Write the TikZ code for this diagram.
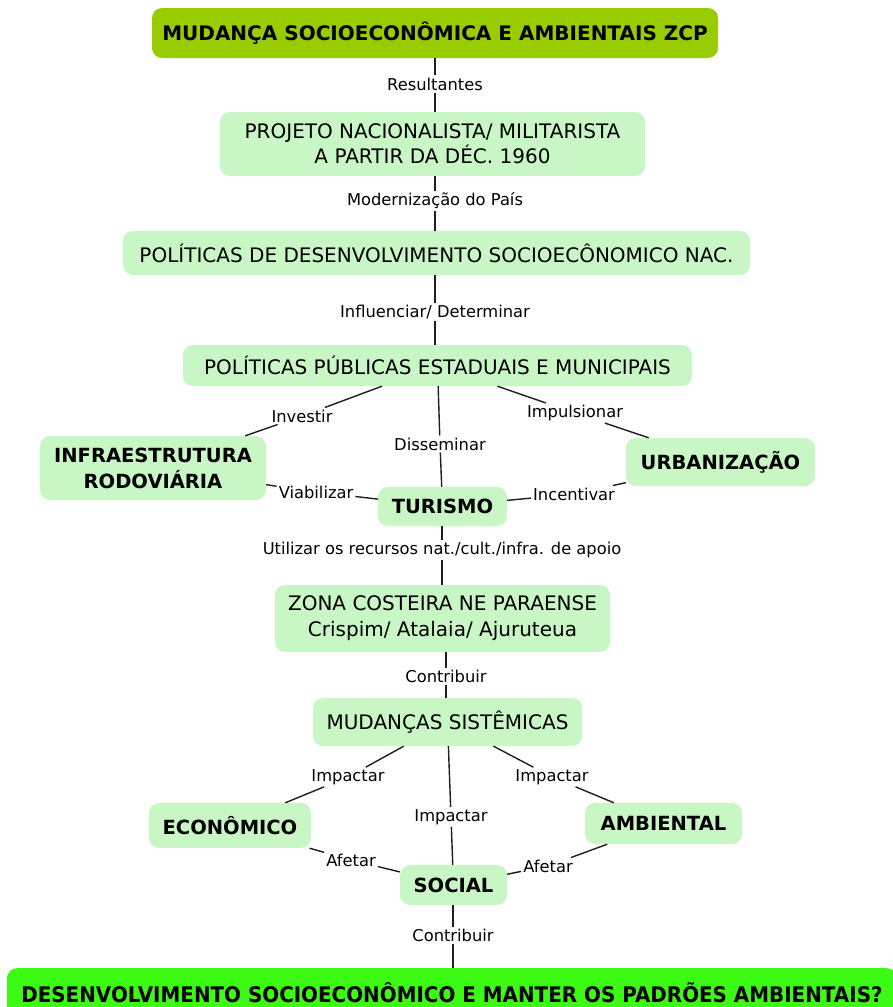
\documentclass[tikz,border=0pt]{standalone}
\usepackage{fontspec}
\setmainfont{DejaVu Sans}
\usepackage{graphicx}
\definecolor{lightbox}{RGB}{200,246,196}
\definecolor{topgreen}{RGB}{153,204,0}
\definecolor{botgreen}{RGB}{60,250,20}
\definecolor{linec}{RGB}{30,30,30}
\tikzset{
  cbox/.style={fill=lightbox, rounded corners=10pt, align=center, inner sep=2pt, text=black},
  rtext/.style={font=\fontsize{20}{25}\selectfont},
  btext/.style={font=\fontsize{19.5}{26}\selectfont\bfseries},
  lbl/.style={font=\fontsize{16.3}{18}\selectfont, inner sep=2pt, text=black},
  conn/.style={draw=linec, line width=1.4pt},
}
\begin{document}
\begin{tikzpicture}[x=1pt,y=-1pt]
\useasboundingbox (0,0) rectangle (893,1007);
% boxes
\node[cbox, fill=topgreen, font=\fontsize{20}{24}\selectfont\bfseries, minimum width=566pt, minimum height=50pt] (top) at (435,33) {MUDANÇA SOCIOECONÔMICA E AMBIENTAIS ZCP};
\node[cbox, rtext, minimum width=425pt, minimum height=64pt] (proj) at (432.5,144) {PROJETO NACIONALISTA/ MILITARISTA\\A PARTIR DA DÉC. 1960};
\node[cbox, rtext, minimum width=627pt, minimum height=44pt] (pol) at (436.5,253) {POLÍTICAS DE DESENVOLVIMENTO SOCIOECÔNOMICO NAC.};
\node[cbox, rtext, minimum width=509pt, minimum height=41pt] (pub) at (437.5,365.5) {POLÍTICAS PÚBLICAS ESTADUAIS E MUNICIPAIS};
\node[cbox, btext, minimum width=226pt, minimum height=64pt] (infra) at (153,468) {INFRAESTRUTURA\\RODOVIÁRIA};
\node[cbox, btext, minimum width=189pt, minimum height=48pt] (urb) at (720.5,462) {URBANIZAÇÃO};
\node[cbox, btext, minimum width=129pt, minimum height=39pt] (tur) at (442.5,506.5) {TURISMO};
\node[cbox, rtext, font=\fontsize{20}{26}\selectfont, minimum width=335pt, minimum height=67pt] (zona) at (442.5,618.5) {ZONA COSTEIRA NE PARAENSE\\Crispim/ Atalaia/ Ajuruteua};
\node[cbox, rtext, minimum width=269pt, minimum height=48pt] (mud) at (447.5,722) {MUDANÇAS SISTÊMICAS};
\node[cbox, btext, minimum width=162pt, minimum height=45pt] (econ) at (230,825.5) {ECONÔMICO};
\node[cbox, btext, minimum width=157pt, minimum height=41pt] (amb) at (663.5,823.5) {AMBIENTAL};
\node[cbox, btext, minimum width=107pt, minimum height=40pt] (soc) at (453.5,885) {SOCIAL};
\node[cbox, fill=botgreen, font=\fontsize{21.5}{24}\selectfont\bfseries, minimum width=890pt, minimum height=48pt, anchor=north] (bot) at (452,968) {\scalebox{0.925}[1]{DESENVOLVIMENTO SOCIOECONÔMICO E MANTER OS PADRÕES AMBIENTAIS?}};
% labels
\node[lbl] (res) at (435,84) {Resultantes};
\node[lbl] (mod) at (435,201) {Modernização do País};
\node[lbl] (infl) at (435,312) {Influenciar/ Determinar};
\node[lbl] (inv) at (302,416) {Investir};
\node[lbl] (diss) at (440,444) {Disseminar};
\node[lbl] (imp) at (575,413) {Impulsionar};
\node[lbl] (via) at (316,492) {Viabilizar};
\node[lbl] (inc) at (574,494) {Incentivar};
\node[lbl] (util) at (442,550) {Utilizar os recursos nat./cult./infra. de apoio};
\node[lbl] (con1) at (446,676) {Contribuir};
\node[lbl] (impl) at (348,777) {Impactar};
\node[lbl] (impm) at (451,817) {Impactar};
\node[lbl] (impr) at (552,777) {Impactar};
\node[lbl] (afl) at (351,860) {Afetar};
\node[lbl] (afr) at (548,866) {Afetar};
\node[lbl] (con2) at (453,935) {Contribuir};
% vertical connectors
\foreach \a/\l/\b in {top/res/proj, proj/mod/pol, pol/infl/pub, tur/util/zona, zona/con1/mud, soc/con2/bot}{
  \draw[conn] (\a.south -| \l) -- (\l.north);
  \draw[conn] (\l.south) -- (\b.north -| \l);
}
% other connectors
\foreach \a/\l/\b in {pub/inv/infra, pub/diss/tur, pub/imp/urb,
  infra/via/tur, urb/inc/tur, mud/impl/econ, mud/impm/soc, mud/impr/amb,
  econ/afl/soc, amb/afr/soc}{
  \draw[conn] (\a) -- (\l);
  \draw[conn] (\l) -- (\b);
}
\end{tikzpicture}
\end{document}
